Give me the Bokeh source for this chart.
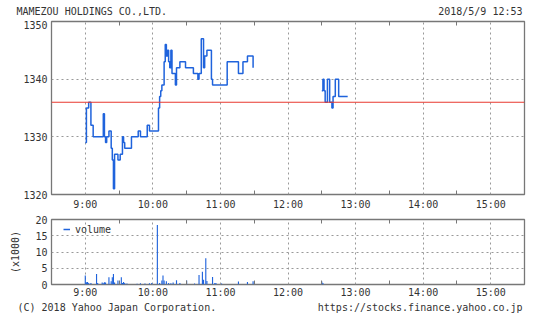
import math
from bokeh.plotting import figure
from bokeh.models import FixedTicker, Span, Label, Legend, LegendItem, LinearAxis, Range1d
from bokeh.layouts import column
from bokeh.embed import file_html
from bokeh.resources import INLINE

# ---------------- data ----------------
title_text = "MAMEZOU HOLDINGS CO.,LTD."
stamp_text = "2018/5/9 12:53"
copyright_text = "(C) 2018 Yahoo Japan Corporation."
url_text = "https://stocks.finance.yahoo.co.jp"
prev_close = 1336

am_times = ["9:00", "9:01", "9:03", "9:05", "9:07", "9:16", "9:17", "9:18", "9:19", "9:21",
            "9:23", "9:24", "9:25", "9:26", "9:29", "9:31", "9:33", "9:34", "9:35", "9:41",
            "9:47", "9:49", "9:55", "9:57", "10:05", "10:06", "10:07", "10:08", "10:10", "10:11",
            "10:12", "10:13", "10:14", "10:15", "10:16", "10:17", "10:20", "10:21", "10:24", "10:29",
            "10:36", "10:40", "10:41", "10:43", "10:45", "10:46", "10:48", "10:52", "10:53", "11:06",
            "11:16", "11:20", "11:24", "11:29"]
am_prices = [1329, 1335, 1336, 1332, 1330, 1334, 1330, 1329, 1330, 1331,
             1328, 1326, 1321, 1327, 1326, 1327, 1330, 1329, 1328, 1330,
             1331, 1330, 1332, 1331, 1335, 1337, 1338, 1339, 1343, 1346,
             1344, 1345, 1343, 1342, 1345, 1341, 1339, 1342, 1343, 1342,
             1341, 1340, 1341, 1347, 1342, 1344, 1345, 1340, 1339, 1343,
             1341, 1343, 1344, 1342]

pm_times = ["12:30", "12:31", "12:32", "12:33", "12:35", "12:37", "12:39", "12:40", "12:42", "12:45", "12:53"]
pm_prices = [1338, 1340, 1338, 1336, 1340, 1336, 1335, 1337, 1340, 1337, 1337]

vol_times = ["9:00", "9:01", "9:02", "9:03", "9:05", "9:10", "9:11", "9:15", "9:16", "9:17",
             "9:18", "9:21", "9:23", "9:24", "9:25", "9:26", "9:29", "9:32", "9:33", "9:34",
             "9:35", "9:37", "9:46", "9:49", "9:53", "9:57", "9:59", "10:04", "10:06", "10:08",
             "10:09", "10:10", "10:12", "10:14", "10:16", "10:18", "10:21", "10:24", "10:30", "10:37",
             "10:41", "10:44", "10:45", "10:47", "10:48", "10:53", "10:55", "10:56", "11:01", "11:16",
             "11:24", "11:29", "12:30", "12:31"]
vol_values = [2.8, 0.7, 0.8, 0.5, 0.5, 3.2, 0.5, 0.6, 0.4, 0.7,
              0.6, 2.2, 1.0, 2.2, 3.2, 0.6, 1.2, 2.2, 0.5, 0.8,
              0.5, 0.3, 0.2, 0.4, 0.3, 0.4, 0.5, 18.3, 0.5, 1.2,
              2.8, 1.2, 1.0, 0.5, 0.4, 0.6, 1.3, 0.5, 1.2, 0.3,
              2.9, 3.9, 1.5, 8.1, 1.1, 2.3, 0.5, 0.5, 0.3, 0.9,
              0.8, 1.0, 0.9, 0.5]

hour_labels = ["9:00", "10:00", "11:00", "12:00", "13:00", "14:00", "15:00"]
price_ticks = [1320, 1330, 1340, 1350]
vol_ticks = [0, 5, 10, 15, 20]

# ---------------- helpers ----------------
def to_min(t):
    h, m = t.split(":")
    return int(h) * 60 + int(m)

FONT = "DejaVu Sans Mono"
TXT = "#333333"
BLUE = "#1f63dc"
RED = "#e8392f"
GRID = "#999999"
FRAME = "#777777"
W = 534

hours = [to_min(h) for h in hour_labels]
halves = [h + 30 for h in hours[:-1]]
overrides = {to_min(h): h for h in hour_labels}
x_lo, x_hi = to_min("8:30"), to_min("15:30")


def style(p, yticks, standoff):
    p.outline_line_color = FRAME
    p.outline_line_width = 1.3
    p.background_fill_color = "white"
    p.border_fill_color = "white"
    xa = p.xaxis[0]
    xa.ticker = FixedTicker(ticks=hours, minor_ticks=halves)
    xa.major_label_overrides = overrides
    xa.major_tick_in = 0
    xa.major_tick_out = 0
    xa.minor_tick_in = 4
    xa.minor_tick_out = 0
    xa.minor_tick_line_color = FRAME
    xa.axis_line_color = None
    xa.major_label_standoff = standoff
    xa.major_label_text_font = FONT
    xa.major_label_text_font_size = "10px"
    xa.major_label_text_color = TXT
    top = LinearAxis(ticker=FixedTicker(ticks=[], minor_ticks=halves))
    top.major_tick_in = 0
    top.major_tick_out = 0
    top.minor_tick_in = 4
    top.minor_tick_out = 0
    top.minor_tick_line_color = FRAME
    top.axis_line_color = None
    top.major_label_standoff = 0
    p.add_layout(top, "above")
    ya = p.yaxis[0]
    ya.ticker = FixedTicker(ticks=yticks)
    ya.major_tick_in = 0
    ya.major_tick_out = 0
    ya.minor_tick_line_color = None
    ya.axis_line_color = None
    ya.major_label_standoff = 4
    ya.major_label_text_font = FONT
    ya.major_label_text_font_size = "10px"
    ya.major_label_text_color = TXT
    p.xgrid.ticker = FixedTicker(ticks=hours)
    p.ygrid.ticker = FixedTicker(ticks=yticks)
    for g in (p.xgrid[0], p.ygrid[0]):
        g.grid_line_color = GRID
        g.grid_line_dash = "2 3"
        g.grid_line_width = 1


def note(p, x, y, text, align="left"):
    p.add_layout(Label(x=x, y=y, x_units="screen", y_units="screen", text=text,
                       text_font=FONT, text_font_size="10px", text_color=TXT,
                       text_baseline="middle", text_align=align))


def strip(h):
    s = figure(width=W, height=h, output_backend="svg", toolbar_location=None,
               x_axis_type=None, y_axis_type=None, min_border=0,
               x_range=Range1d(0, 1), y_range=Range1d(0, 1))
    s.frame_align = False
    s.outline_line_color = None
    s.grid.visible = False
    s.background_fill_color = "white"
    s.border_fill_color = "white"
    return s


# ---------------- header strip (canvas y 0..20) ----------------
head = strip(20)
note(head, 16, 9, title_text, "left")
note(head, 522, 9, stamp_text, "right")

# ---------------- price panel (canvas y 20..212) ----------------
p1 = figure(width=W, height=192, output_backend="svg", toolbar_location=None,
            x_range=Range1d(x_lo, x_hi), y_range=Range1d(1320, 1350),
            min_border_left=51, min_border_right=10, min_border_top=1, min_border_bottom=17)
style(p1, price_ticks, 4)

p1.add_layout(Span(location=prev_close, dimension="width", line_color=RED, line_width=1.2))
p1.step([to_min(t) for t in am_times], am_prices, mode="after", line_color=BLUE, line_width=1.5)
p1.step([to_min(t) for t in pm_times], pm_prices, mode="after", line_color=BLUE, line_width=1.5)

# ---------------- volume panel (canvas y 212..300) ----------------
p2 = figure(width=W, height=88, output_backend="svg", toolbar_location=None,
            x_range=p1.x_range, y_range=Range1d(0, 20),
            min_border_left=51, min_border_right=10, min_border_top=7, min_border_bottom=16)
style(p2, vol_ticks, 2)
p2.yaxis[0].axis_label = "(x1000)"
p2.yaxis[0].axis_label_text_font = FONT
p2.yaxis[0].axis_label_text_font_size = "10px"
p2.yaxis[0].axis_label_text_font_style = "normal"
p2.yaxis[0].axis_label_text_color = TXT
p2.yaxis[0].axis_label_standoff = 11

p2.vbar(x=[to_min(t) for t in vol_times], top=vol_values, width=1.0, bottom=0,
        fill_color=BLUE, line_color=None)
leg_r = p2.line(x=[to_min(vol_times[0])], y=[float("nan")], line_color=BLUE, line_width=1.5)
legend = Legend(items=[LegendItem(label="volume", renderers=[leg_r])],
                location=(12, 45), glyph_width=7, glyph_height=20, label_standoff=5,
                padding=0, margin=0, spacing=0,
                label_text_font=FONT, label_text_font_size="10px", label_text_color=TXT,
                border_line_alpha=0, background_fill_alpha=0)
p2.add_layout(legend, "center")

# ---------------- footer strip (canvas y 300..314) ----------------
foot = strip(14)
note(foot, 17, 7, copyright_text, "left")
note(foot, 522, 7, url_text, "right")

layout = column(head, p1, p2, foot, spacing=0)
open("out.html", "w").write(file_html(layout, INLINE))
